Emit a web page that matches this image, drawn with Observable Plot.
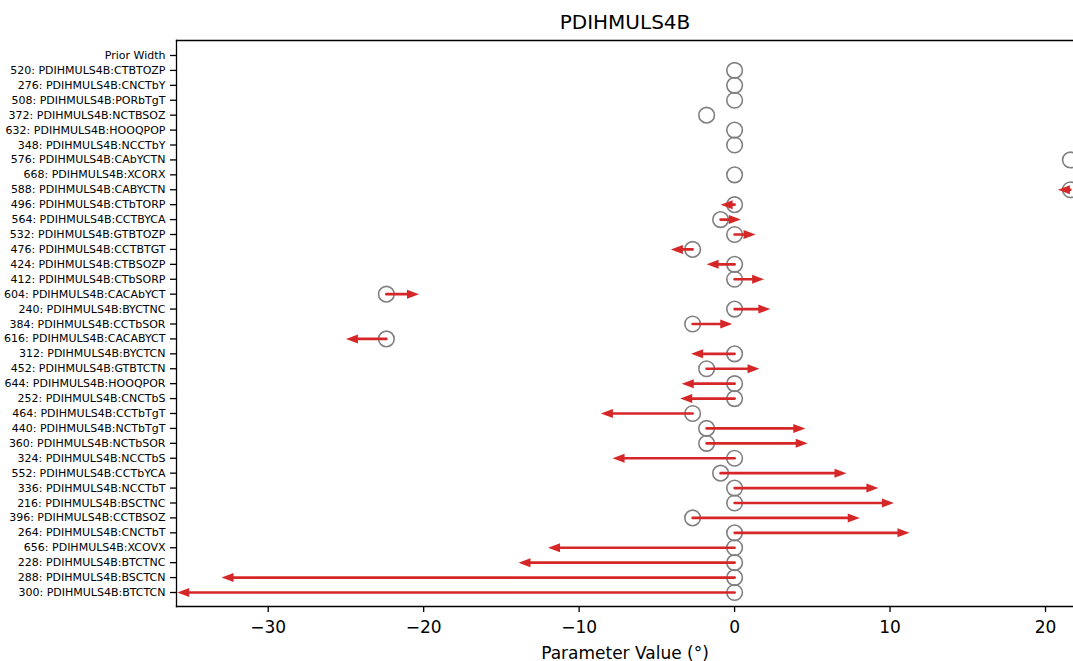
<!DOCTYPE html>
<html><head><meta charset="utf-8">
<script src="https://cdn.jsdelivr.net/npm/d3@7"></script>
<script src="https://cdn.jsdelivr.net/npm/@observablehq/plot@0.6"></script>
<style>body{margin:0;background:#fff}</style>
</head><body><div id="chart"></div>
<script>
const labels = [
  "Prior Width",
  "520: PDIHMULS4B:CTBTOZP","276: PDIHMULS4B:CNCTbY","508: PDIHMULS4B:PORbTgT","372: PDIHMULS4B:NCTBSOZ",
  "632: PDIHMULS4B:HOOQPOP","348: PDIHMULS4B:NCCTbY","576: PDIHMULS4B:CAbYCTN","668: PDIHMULS4B:XCORX",
  "588: PDIHMULS4B:CABYCTN","496: PDIHMULS4B:CTbTORP","564: PDIHMULS4B:CCTBYCA","532: PDIHMULS4B:GTBTOZP",
  "476: PDIHMULS4B:CCTBTGT","424: PDIHMULS4B:CTBSOZP","412: PDIHMULS4B:CTbSORP","604: PDIHMULS4B:CACAbYCT",
  "240: PDIHMULS4B:BYCTNC","384: PDIHMULS4B:CCTbSOR","616: PDIHMULS4B:CACABYCT","312: PDIHMULS4B:BYCTCN",
  "452: PDIHMULS4B:GTBTCTN","644: PDIHMULS4B:HOOQPOR","252: PDIHMULS4B:CNCTbS","464: PDIHMULS4B:CCTbTgT",
  "440: PDIHMULS4B:NCTbTgT","360: PDIHMULS4B:NCTbSOR","324: PDIHMULS4B:NCCTbS","552: PDIHMULS4B:CCTbYCA",
  "336: PDIHMULS4B:NCCTbT","216: PDIHMULS4B:BSCTNC","396: PDIHMULS4B:CCTBSOZ","264: PDIHMULS4B:CNCTbT",
  "656: PDIHMULS4B:XCOVX","228: PDIHMULS4B:BTCTNC","288: PDIHMULS4B:BSCTCN","300: PDIHMULS4B:BTCTCN"
];
const priorValues = [
  null,
  0, 0, 0, -1.8,
  0, 0, 21.6, 0,
  21.6, 0, -0.9, 0,
  -2.7, 0, 0, -22.4,
  0, -2.7, -22.4, 0,
  -1.8, 0, 0, -2.7,
  -1.8, -1.8, 0, -0.9,
  0, 0, -2.7, 0,
  0, 0, 0, 0
];
const fittedValues = [
  null,
  null, null, null, null,
  null, null, null, null,
  20.8, -0.9, 0.4, 1.35,
  -4.1, -1.8, 1.9, -20.3,
  2.3, -0.15, -25.0, -2.8,
  1.6, -3.4, -3.5, -8.6,
  4.55, 4.7, -7.85, 7.2,
  9.25, 10.25, 8.05, 11.25,
  -12.0, -13.9, -33.0, -35.85
];
const xTicks = [-30, -20, -10, 0, 10, 20];
const title = "PDIHMULS4B";
const xLabel = "Parameter Value (°)";

const rows = labels.map((label, i) => ({label, prior: priorValues[i], fitted: fittedValues[i]}));
const circles = rows.filter(d => d.prior != null);
const arrows = rows.filter(d => d.fitted != null && d.prior != null);
const rightArrows = arrows.filter(d => d.fitted >= d.prior);
const leftArrows = arrows.filter(d => d.fitted < d.prior);

const HL = 12, HW = 4.5;
const headRight = {draw(ctx) { ctx.moveTo(0, 0); ctx.lineTo(-HL, -HW); ctx.lineTo(-HL, HW); ctx.closePath(); }};
const headLeft = {draw(ctx) { ctx.moveTo(0, 0); ctx.lineTo(HL, -HW); ctx.lineTo(HL, HW); ctx.closePath(); }};
const red = "#d62728";

const chart = Plot.plot({
  width: 1073,
  height: 661,
  marginLeft: 176,
  marginRight: 0,
  marginTop: 40,
  marginBottom: 55,
  style: {fontFamily: "DejaVu Sans", background: "white", color: "black"},
  x: {domain: [-35.9, 21.8], range: [176, 1073]},
  y: {type: "point", domain: labels, range: [55, 592], padding: 0},
  marks: [
    Plot.dot(circles, {x: "prior", y: "label", r: 7.8, stroke: "#808080", strokeWidth: 1.6, fill: "none"}),
    Plot.arrow(arrows, {x1: "prior", x2: "fitted", y1: "label", y2: "label", headLength: 0, insetEnd: 10, stroke: red, strokeWidth: 2.6}),
    Plot.dot(rightArrows, {x: "fitted", y: "label", symbol: headRight, fill: red, stroke: "none"}),
    Plot.dot(leftArrows, {x: "fitted", y: "label", symbol: headLeft, fill: red, stroke: "none"}),
    Plot.axisX({ticks: xTicks, tickSize: 6, tickPadding: 8, fontSize: 17, label: null, strokeWidth: 1.3}),
    Plot.axisY({tickSize: 6, tickPadding: 5, fontSize: 11, label: null, strokeWidth: 1.3}),
    Plot.frame({anchor: "top", strokeWidth: 1.3}),
    Plot.frame({anchor: "left", strokeWidth: 1.3}),
    Plot.frame({anchor: "bottom", strokeWidth: 1.3}),
    Plot.text([title], {frameAnchor: "top", dy: -12, lineAnchor: "bottom", fontSize: 20, fill: "black"}),
    Plot.text([xLabel], {frameAnchor: "bottom", dy: 52, lineAnchor: "bottom", fontSize: 17, fill: "black"})
  ]
});
document.getElementById("chart").appendChild(chart);
</script>
</body></html>
